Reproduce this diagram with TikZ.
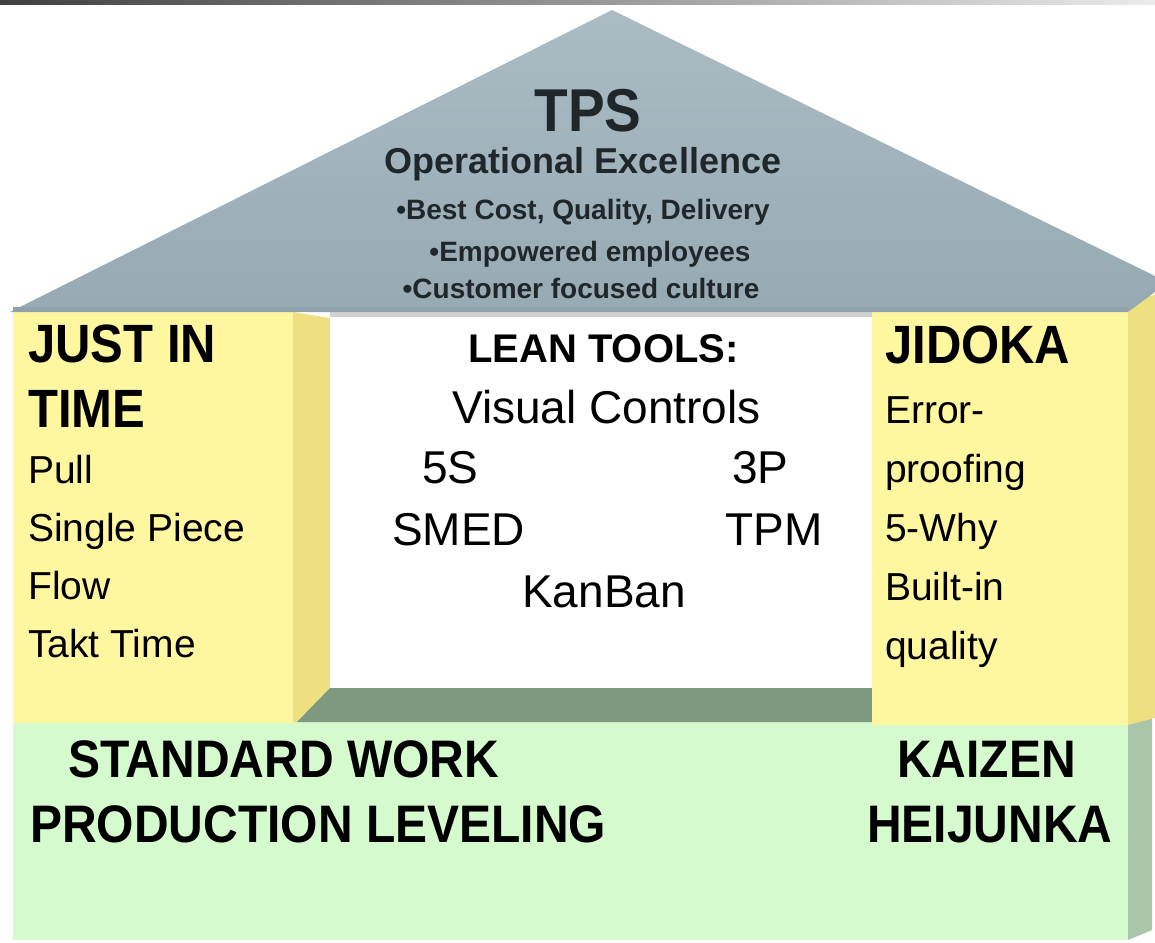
\documentclass[tikz,border=0pt]{standalone}
\usepackage{graphicx}
\usepackage{fontspec}
\setmainfont{Liberation Sans}
\definecolor{roofgray}{HTML}{97AAB4}
\definecolor{rooflight}{HTML}{AABBC3}
\definecolor{roofrim}{HTML}{8FA1AA}
\definecolor{pillaryellow}{HTML}{FFF7A0}
\definecolor{pillarside}{HTML}{EEDF80}
\definecolor{basegreen}{HTML}{D4FACD}
\definecolor{baseside}{HTML}{A9C6AA}
\definecolor{floorgreen}{HTML}{7D9A80}
\definecolor{rooftext}{HTML}{20272B}
\newcommand{\fsz}[1]{\fontsize{#1}{#1}\selectfont}
\newcommand{\tall}[1]{\scalebox{1}[1.1]{#1}}

\begin{document}
\begin{tikzpicture}[x = 1pt, y = -1pt,
		txt/.style = {anchor = base west, inner sep = 0},
		pillarhead/.style = {txt, font = \fsz{49}\bfseries},
		pillaritem/.style = {txt, font = \fsz{39}},
		tooltext/.style = {txt, font = \fsz{46}},
		basetext/.style = {txt, font = \fsz{48}\bfseries},
		rooftxt/.style = {anchor = base, inner sep = 0, text = rooftext, font = \fsz{28}\bfseries}]
			\fill[white, use as bounding box] (0, 0) rectangle (1155, 942);
			\shade[left color = black!75, right color = black!8] (0, 0) rectangle (1155, 5);
			\fill[basegreen] (13, 722) rectangle (1128, 940);
			\fill[baseside] (1128, 722) -- (1152, 718) -- (1152, 930) -- (1128, 940) -- cycle;
			\fill[pillaryellow] (13, 308) rectangle (293, 723);
			\fill[pillarside] (293, 312) -- (330, 318) -- (330, 688) -- (297, 722) -- (293, 722) -- cycle;
			\fill[white] (330, 312) rectangle (872, 688);
			\fill[black!18] (330, 312) rectangle (872, 317);
			\fill[floorgreen] (297, 722) -- (330, 688) -- (872, 688) -- (872, 722) -- cycle;
			\fill[pillaryellow] (872, 308) rectangle (1128, 725);
			\fill[pillarside] (1128, 300) -- (1155, 295) -- (1155, 718) -- (1128, 725) -- cycle;
			\shade[top color = rooflight, bottom color = roofgray] (10, 312) -- (612, 10) -- (1155, 276) -- (1155, 292) -- (1128, 312) -- cycle;
			\fill[roofrim] (13, 307) rectangle (1128, 312);
			\node[rooftxt, font = \fsz{55}\bfseries] (tps) at (588, 131) {\tall{TPS}};
			\node[rooftxt, font = \fsz{36}\bfseries] (opex) at (583, 173) {Operational Excellence};
			\node[rooftxt] (cost) at (583, 219) {•Best Cost, Quality, Delivery};
			\node[rooftxt] (staff) at (590, 261) {•Empowered employees};
			\node[rooftxt] (culture) at (581, 298) {•Customer focused culture};
			\node[pillarhead] (jit) at (28, 362) {\tall{JUST IN}};
			\node[pillarhead] (time) at (28, 427) {\tall{TIME}};
			\foreach \t [count = \i] in {Pull, Single Piece, Flow, Takt Time}
				\node[pillaritem] (jit\i) at (28, {483 + 58 * (\i - 1)}) {\t};
			\node[pillarhead] (jidoka) at (885, 363) {\tall{JIDOKA}};
			\foreach \t [count = \i] in {Error-, proofing, 5-Why, Built-in, quality}
				\node[pillaritem] (jid\i) at (885, {423 + 59 * (\i - 1)}) {\t};
			\node[txt, font = \fsz{40}\bfseries] (lean) at (468, 362) {LEAN TOOLS:};
			\node[tooltext] (visual) at (452, 423) {Visual Controls};
			\node[tooltext] (fives) at (422, 483) {5S};
			\node[tooltext] (threep) at (732, 483) {3P};
			\node[tooltext] (smed) at (392, 545) {SMED};
			\node[tooltext] (tpm) at (725, 545) {TPM};
			\node[tooltext] (kanban) at (522, 607) {KanBan};
			\node[basetext] (stdwork) at (68, 777) {\tall{STANDARD WORK}};
			\node[basetext] (leveling) at (30, 842) {\tall{PRODUCTION LEVELING}};
			\node[basetext] (kaizen) at (897, 777) {\tall{KAIZEN}};
			\node[basetext] (heijunka) at (867, 842) {\tall{HEIJUNKA}};
		\end{tikzpicture}
\end{document}
